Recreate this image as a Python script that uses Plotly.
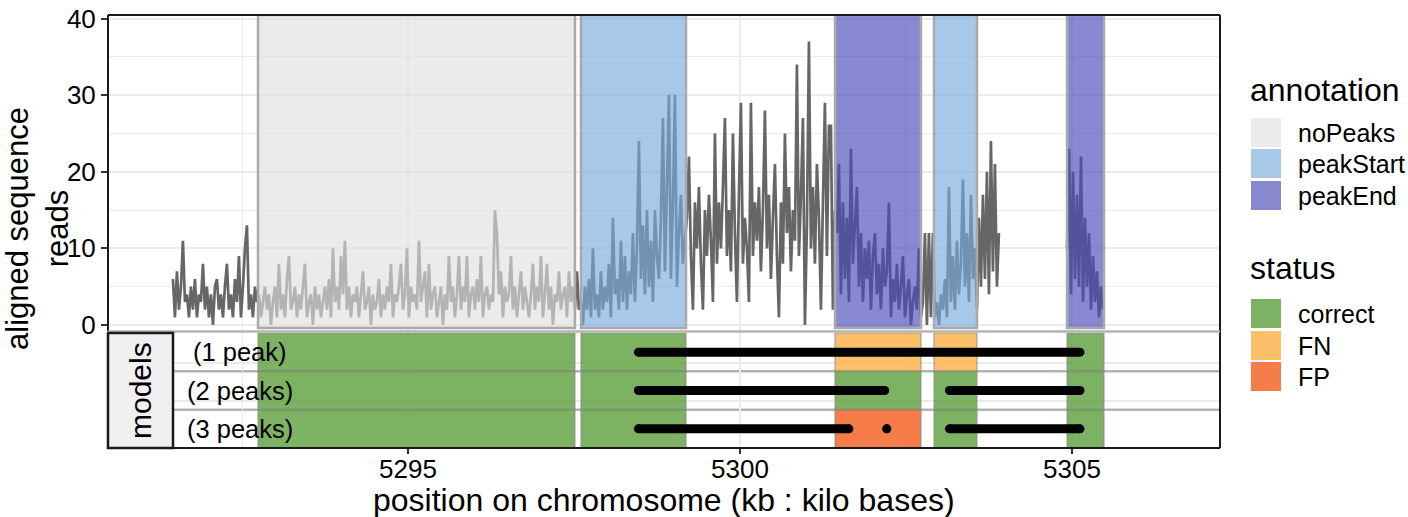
import plotly.graph_objects as go

# ---------------- data ----------------
# aligned-read coverage, one value every ~0.03 kb
cov_start_kb = 5291.46
cov_step_kb = 0.03012
cov_left = [6, 1, 7, 2, 5, 11, 3, 4, 1, 5, 2, 6, 1, 4, 3, 8, 2, 5, 1, 4, 0, 5, 6, 2, 4, 1, 5, 8, 2, 4,
            1, 6, 3, 9, 1, 5, 10, 13, 2, 4, 1, 5, 3]
cov_nopeaks = [4, 1, 3, 5, 2, 4, 0, 3, 5, 1,
               8, 2, 4, 1, 6, 9, 2, 3, 5, 1,
               4, 2, 5, 8, 1, 3, 4, 0, 5, 2,
               4, 1, 3, 5, 2, 6, 1, 10, 3, 5,
               2, 9, 4, 11, 2, 5, 1, 4, 3, 5,
               1, 4, 7, 2, 3, 5, 0, 4, 2, 3,
               6, 1, 4, 2, 5, 3, 8, 1, 4, 3,
               5, 8, 2, 4, 10, 1, 5, 3, 4, 2,
               11, 3, 5, 7, 1, 8, 2, 4, 5, 1,
               3, 5, 0, 4, 2, 9, 3, 5, 1, 4,
               9, 2, 5, 3, 9, 1, 4, 5, 2, 6,
               3, 9, 1, 4, 5, 2, 4, 3, 15, 12,
               4, 7, 1, 5, 3, 4, 9, 2, 5, 1,
               4, 7, 2, 5, 3, 1, 4, 8, 2, 5,
               3, 9, 1, 4, 8, 2, 5, 0, 4, 3,
               7, 2, 4, 5, 1, 7, 3, 5, 2]
cov_gap1 = [7, 2]
cov_peakstart = [3, 0, 5, 2, 6, 1, 10, 2, 4, 1,
                 7, 2, 5, 3, 8, 1, 14, 4, 6, 2,
                 11, 3, 9, 2, 7, 4, 12, 3, 10, 24,
                 6, 13, 4, 15, 5, 11, 3, 15, 9, 6,
                 14, 27, 7, 18, 30, 6, 16, 30, 5, 12,
                 17, 8, 11]
cov_mid = [14, 22, 9, 2, 16, 10, 18, 8, 2, 15,
           9, 17, 11, 3, 25, 8, 16, 10, 18, 27,
           9, 15, 7, 25, 12, 3, 17, 29, 8, 14,
           10, 3, 29, 9, 16, 11, 18, 7, 15, 28,
           10, 17, 6, 14, 21, 9, 1, 16, 8, 25,
           12, 18, 7, 15, 11, 34, 9, 17, 27, 0,
           13, 37, 10, 18, 8, 21, 14, 2, 16, 29,
           9, 26, 26, 2, 15]
cov_peakend = [12, 21, 4, 16, 6, 14, 3, 23, 8, 13,
               18, 5, 12, 3, 10, 6, 11, 2, 9, 12,
               4, 8, 2, 10, 5, 7, 16, 1, 6, 3,
               8, 2, 5, 9, 1, 4, 6, 0, 3, 5,
               2, 10, 1]
cov_gap2 = [3, 12, 0, 12, 1, 12]
cov_peakstart2 = [1, 3, 0, 4, 2, 6, 1, 18, 3, 9, 2, 11, 4, 8, 19, 5, 12, 3, 17, 6, 10, 2]
cov_after = [14, 5, 17, 6, 20, 4, 24, 7, 21, 5, 12]
cov2_start_kb = 5304.925
cov_peakend2 = [10, 23, 4, 20, 6, 17, 5, 22, 3, 14, 5, 12, 2, 9, 3, 7, 1, 5, 2]

# annotated regions (kb)
ann_type = ["noPeaks", "peakStart", "peakEnd", "peakStart", "peakEnd"]
ann_start = [5292.741, 5297.605, 5301.431, 5302.922, 5304.925]
ann_end = [5297.515, 5299.187, 5302.726, 5303.569, 5305.482]

# models and their error status per region
models = ["(1 peak)", "(2 peaks)", "(3 peaks)"]
status_1peak = ["correct", "correct", "FN", "FN", "correct"]
status_2peaks = ["correct", "correct", "correct", "correct", "correct"]
status_3peaks = ["correct", "correct", "FP", "correct", "correct"]

# predicted peak segments: model row, start kb, end kb
seg_model = [1, 2, 2, 3, 3, 3]
seg_start = [5298.47, 5298.47, 5303.155, 5298.47, 5302.21, 5303.155]
seg_end = [5305.12, 5302.18, 5305.12, 5301.64, 5302.21, 5305.12]

x_ticks = [5295, 5300, 5305]
y_ticks = [0, 10, 20, 30, 40]

ann_levels = ["noPeaks", "peakStart", "peakEnd"]
status_levels = ["correct", "FN", "FP"]

# ---------------- styles ----------------
ann_fill = {"noPeaks": "rgba(224,224,224,0.64)",
            "peakStart": "rgba(121,171,223,0.65)",
            "peakEnd": "rgba(72,74,183,0.65)"}
status_fill = {"correct": "rgba(93,159,60,0.8)",
               "FN": "rgba(253,176,66,0.8)",
               "FP": "rgba(244,93,29,0.8)"}
FONT = "Liberation Sans, Arial, sans-serif"
GRID = "#ebebeb"
TICK_SIZE = 26
TITLE_SIZE = 32

# pixel geometry helpers (plot area 108..1220 x 15..448)
L, R, T, B = 108, 1220, 15, 448
def px(x):
    return (x - L) / (R - L)
def py(y):
    return (B - y) / (B - T)

top_dom = [py(331), 1]
bot_dom = [0, py(333)]

fig = go.Figure()

# coverage trace
cov_main = (cov_left + cov_nopeaks + cov_gap1 + cov_peakstart + cov_mid +
            cov_peakend + cov_gap2 + cov_peakstart2 + cov_after)
x_main = [cov_start_kb + i * cov_step_kb for i in range(len(cov_main))]
x_right = [cov2_start_kb + i * cov_step_kb for i in range(len(cov_peakend2))]
fig.add_trace(go.Scatter(
    x=x_main + [None] + x_right, y=cov_main + [None] + cov_peakend2,
    mode="lines", line=dict(color="#666666", width=2.7, simplify=False),
    xaxis="x", yaxis="y", hoverinfo="skip", showlegend=False))

# model segments
seg_x, seg_y = [], []
for m, s, e in zip(seg_model, seg_start, seg_end):
    seg_x += [s, e, None]
    seg_y += [m, m, None]
fig.add_trace(go.Scatter(
    x=seg_x, y=seg_y, mode="lines+markers",
    line=dict(color="black", width=9), marker=dict(color="black", size=9),
    xaxis="x2", yaxis="y2", hoverinfo="skip", showlegend=False))

shapes = []
# annotation rectangles over the coverage
for t, s, e in zip(ann_type, ann_start, ann_end):
    shapes.append(dict(type="rect", xref="x", yref="y", x0=s, x1=e, y0=-0.4, y1=40.457,
                       fillcolor=ann_fill[t], line=dict(color="#aaaaaa", width=2.5), layer="above"))

# row separators in model panel
for yy in [1.5, 2.5]:
    shapes.append(dict(type="line", xref="paper", yref="y2", x0=px(173), x1=1, y0=yy, y1=yy,
                       line=dict(color="#b3b3b3", width=2.5), layer="below"))

# status tiles
for row, st in enumerate([status_1peak, status_2peaks, status_3peaks], start=1):
    for s, e, k in zip(ann_start, ann_end, st):
        shapes.append(dict(type="rect", xref="x2", yref="y2", x0=s, x1=e, y0=row - 0.5, y1=row + 0.5,
                           fillcolor=status_fill[k], line=dict(color="rgba(140,140,140,0.6)", width=1.5),
                           layer="between"))

# panel borders
blk = dict(color="#1a1a1a", width=2)
shapes += [
    dict(type="line", xref="paper", yref="paper", x0=0, x1=1, y0=1, y1=1, line=blk, layer="above"),
    dict(type="line", xref="paper", yref="paper", x0=0, x1=0, y0=py(331), y1=1, line=blk, layer="above"),
    dict(type="line", xref="paper", yref="paper", x0=1, x1=1, y0=0, y1=1, line=blk, layer="above"),
    dict(type="line", xref="paper", yref="paper", x0=0, x1=1, y0=0, y1=0, line=blk, layer="above"),
    dict(type="line", xref="paper", yref="paper", x0=0, x1=1, y0=py(331.5), y1=py(331.5),
         line=dict(color="#b3b3b3", width=2.5), layer="above"),
    dict(type="rect", xref="paper", yref="paper", x0=0, x1=px(173), y0=0, y1=py(333),
         fillcolor="#f0f0f0", line=dict(color="#1a1a1a", width=2.5), layer="above"),
]

annotations = []
# model row labels
for i, m in enumerate(models, start=1):
    annotations.append(dict(x=5292.47, y=i, xref="x2", yref="y2", text=m, showarrow=False,
                            font=dict(size=25.5, color="black"), xanchor="center", yanchor="middle"))
annotations.append(dict(x=px(140.5), y=py(390.5), xref="paper", yref="paper", text="models",
                        textangle=-90, showarrow=False, font=dict(size=30, color="black"),
                        xanchor="center", yanchor="middle"))
# axis titles
annotations.append(dict(x=px(664), y=py(500), xref="paper", yref="paper",
                        text="position on chromosome (kb : kilo bases)", showarrow=False,
                        font=dict(size=TITLE_SIZE, color="black"), xanchor="center", yanchor="middle"))
annotations.append(dict(x=px(37), y=py(229), xref="paper", yref="paper",
                        text="aligned sequence<br>reads", textangle=-90, showarrow=False,
                        font=dict(size=31, color="black"), xanchor="center", yanchor="middle"))

# manual legends
def legend_block(title, title_y, levels, fills, tops):
    annotations.append(dict(x=px(1248), y=py(title_y), xref="paper", yref="paper", text=title,
                            showarrow=False, font=dict(size=32, color="black"),
                            xanchor="left", yanchor="middle"))
    for lev, top in zip(levels, tops):
        shapes.append(dict(type="rect", xref="paper", yref="paper", x0=px(1251), x1=px(1281),
                           y0=py(top + 29), y1=py(top), fillcolor=fills[lev],
                           line=dict(width=0), layer="above"))
        annotations.append(dict(x=px(1296), y=py(top + 15), xref="paper", yref="paper", text=lev,
                                showarrow=False, font=dict(size=25, color="black"),
                                xanchor="left", yanchor="middle"))

legend_block("annotation", 90, ann_levels, ann_fill, [118, 149, 181])
legend_block("status", 268, status_levels, status_fill, [299, 331, 362])

xr = [5290.482, 5307.229]
fig.update_layout(
    width=1408, height=517,
    margin=dict(l=L, r=1408 - R, t=T, b=517 - B, autoexpand=False),
    paper_bgcolor="white", plot_bgcolor="white", showlegend=False,
    font=dict(family=FONT, color="black", size=24),
    xaxis=dict(domain=[0, 1], anchor="y", range=xr, tickvals=x_ticks, showticklabels=False,
               ticks="", showgrid=True, gridcolor=GRID, gridwidth=1.8, zeroline=False, showline=False,
               automargin=False,
               minor=dict(dtick=2.5, tick0=0, showgrid=True, gridcolor=GRID, gridwidth=1)),
    yaxis=dict(domain=top_dom, anchor="x", range=[-0.783, 40.457], tickvals=y_ticks,
               ticks="outside", ticklen=6, tickwidth=1.5, tickcolor="#333333",
               tickfont=dict(size=TICK_SIZE, color="black"), automargin=False,
               showgrid=True, gridcolor=GRID, gridwidth=1.8, zeroline=False, showline=False,
               minor=dict(dtick=5, tick0=0, showgrid=True, gridcolor=GRID, gridwidth=1)),
    xaxis2=dict(domain=[0, 1], anchor="y2", matches="x", range=xr, tickvals=x_ticks,
                ticks="outside", ticklen=5, tickwidth=1.5, tickcolor="#333333",
                tickfont=dict(size=TICK_SIZE, color="black"), automargin=False,
                ticklabelstandoff=-7,
                showgrid=True, gridcolor=GRID, gridwidth=1.8, zeroline=False, showline=False,
                minor=dict(dtick=2.5, tick0=0, showgrid=True, gridcolor=GRID, gridwidth=1)),
    yaxis2=dict(domain=bot_dom, anchor="x2", range=[3.5, 0.5], tickvals=[1.283, 2.283],
                showticklabels=False, ticks="", showgrid=True, gridcolor=GRID, gridwidth=1.8,
                zeroline=False, showline=False, automargin=False),
    shapes=shapes, annotations=annotations,
)

fig.write_html("out.html", config={"displayModeBar": False},
               post_script="document.body.style.margin='0px';")
